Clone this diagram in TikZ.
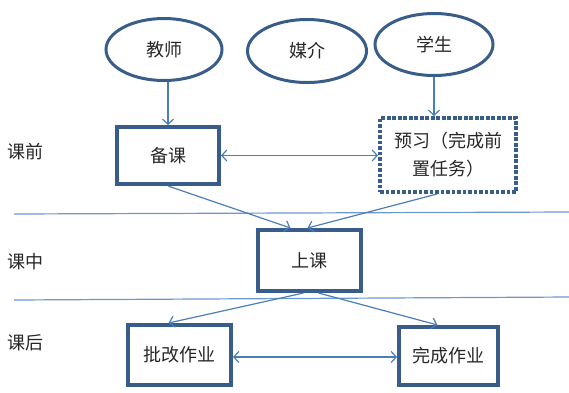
\documentclass[tikz,border=0pt]{standalone}
\usepackage{fontspec}
\setmainfont{Noto Sans CJK SC}
\usetikzlibrary{arrows.meta,calc,shapes.geometric}
\definecolor{outl}{HTML}{385D8A}
\definecolor{conn}{HTML}{4A7EBB}
\definecolor{sepc}{HTML}{6E97CC}
\begin{document}
\begin{tikzpicture}[x=1pt,y=-1pt,
  every node/.style={font=\fontsize{18}{28}\selectfont, text=black!85},
  oval/.style={draw=outl, line width=3pt, ellipse, inner sep=0pt},
  stepbox/.style={draw=outl, line width=4pt, rectangle, inner sep=0pt, align=center},
  dotbox/.style={draw=outl, line width=4pt, dash pattern=on 3.6pt off 1.9pt, rectangle, inner sep=0pt, align=center},
  arr/.style={draw=conn, line width=1.2pt, -{Straight Barb[length=5pt,width=11pt]}},
  darr/.style={draw=conn, line width=1.2pt, {Straight Barb[length=5pt,width=11pt]}-{Straight Barb[length=5pt,width=11pt]}},
  sepline/.style={draw=sepc, line width=1.2pt},
  lbl/.style={anchor=center}
]
\useasboundingbox (0,0) rectangle (569,392);
% separator lines
\coordinate (s1a) at (14,214); \coordinate (s1b) at (569,212);
\coordinate (s2a) at (14,300); \coordinate (s2b) at (569,297);
\draw[sepline] (s1a) -- (s1b);
\draw[sepline] (s2a) -- (s2b);
% phase labels
\node[lbl] (l1) at (25,152) {课前};
\node[lbl] (l2) at (25,262) {课中};
\node[lbl] (l3) at (25,343) {课后};
% ellipses
\node[oval, minimum width=116, minimum height=62] (jiaoshi) at (164,49.5) {教师};
\node[oval, minimum width=119, minimum height=63] (meijie) at (307,51) {媒介};
\node[oval, minimum width=118, minimum height=62] (xuesheng) at (434,44.5) {学生};
% boxes
\node[stepbox, minimum width=102, minimum height=57] (beike) at (168,155.5) {备课};
\node[dotbox, minimum width=136, minimum height=74] (yuxi) at (448,155) {预习（完成前\\置任务）};
\node[stepbox, minimum width=103, minimum height=61] (shangke) at (309.5,260.5) {上课};
\node[stepbox, minimum width=103, minimum height=60] (pigai) at (179.5,355) {批改作业};
\node[stepbox, minimum width=99, minimum height=58] (wancheng) at (448.5,356) {完成作业};
% connectors
\draw[arr] (beike.north |- jiaoshi.south) -- (beike.north);
\draw[arr] (xuesheng.south) -- (xuesheng.south |- yuxi.north);
\draw[darr] (beike.east) -- (beike.east -| yuxi.west);
\draw[arr] (beike.south) -- ($(shangke.north)+(-19,0)$);
\draw[arr] ($(yuxi.south)+(-11,0)$) -- ($(shangke.north)+(-2,0)$);
\draw[arr] ($(shangke.south)+(-6,0)$) -- ($(pigai.north)+(-11,0)$);
\draw[arr] ($(shangke.south)+(9,0)$) -- ($(wancheng.north)+(-11,0)$);
\draw[darr] ($(pigai.east)+(0,2)$) -- ($(pigai.east -| wancheng.west)+(0,2)$);
\end{tikzpicture}
\end{document}
